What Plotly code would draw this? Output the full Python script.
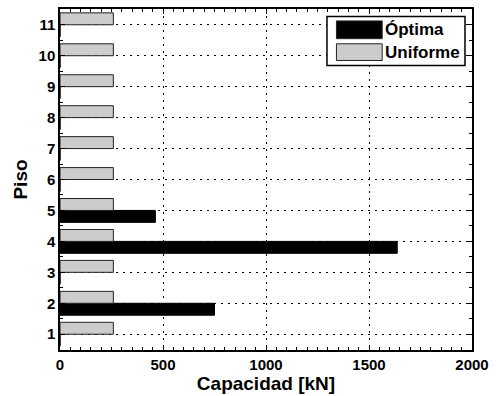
import plotly.graph_objects as go

pisos = [1, 2, 3, 4, 5, 6, 7, 8, 9, 10, 11]
optima = [0, 750, 0, 1637, 463, 0, 0, 0, 0, 0, 0]
uniforme = [259] * 11
x_ticks = [0, 500, 1000, 1500, 2000]
series_names = ["Óptima", "Uniforme"]
series_colors = ["black", "#cccccc"]

FONT = "Liberation Sans, Arial, sans-serif"

fig = go.Figure()
fig.add_trace(go.Bar(
    y=pisos, x=optima, orientation="h", name=series_names[0], showlegend=False,
    marker=dict(color=series_colors[0], line=dict(color="black", width=1)),
))
fig.add_trace(go.Bar(
    y=pisos, x=uniforme, orientation="h", name=series_names[1], showlegend=False,
    marker=dict(color=series_colors[1], line=dict(color="#222222", width=1)),
))

# legend drawn as box + swatches + text (paper coordinates)
shapes = [dict(type="rect", xref="paper", yref="paper", x0=0.648, x1=0.983, y0=0.834, y1=0.978,
               line=dict(color="black", width=1.5), fillcolor="white", layer="above")]
annotations = []
sw_y = [(0.913, 0.965), (0.849, 0.898)]
for (y0, y1), name, col in zip(sw_y, series_names, series_colors):
    shapes.append(dict(type="rect", xref="paper", yref="paper", x0=0.671, x1=0.782, y0=y0, y1=y1,
                       line=dict(color="#222222", width=1), fillcolor=col, layer="above"))
    annotations.append(dict(xref="paper", yref="paper", x=0.785, y=(y0 + y1) / 2, xanchor="left",
                            yanchor="middle", showarrow=False, text=name,
                            font=dict(size=17, weight="bold", family=FONT, color="black")))

fig.update_layout(
    width=496, height=396,
    margin=dict(l=60, r=23, t=7, b=45),
    paper_bgcolor="white", plot_bgcolor="white",
    barmode="group", bargap=0.23, bargroupgap=0,
    font=dict(family=FONT, color="black"),
    shapes=shapes, annotations=annotations,
)

fig.update_xaxes(
    range=[0, 2000], tickvals=x_ticks, ticktext=[str(v) for v in x_ticks],
    showline=True, linecolor="black", linewidth=1.5, mirror="ticks",
    ticks="inside", ticklen=5, tickcolor="black",
    showgrid=True, gridcolor="black", griddash="2px,5px", gridwidth=1,
    zeroline=False,
    tickfont=dict(size=15, weight="bold", family=FONT),
    title=dict(text="Capacidad [kN]", font=dict(size=19, weight="bold", family=FONT), standoff=3),
    minor=dict(ticks="inside", ticklen=3, dtick=50, tickcolor="black", showgrid=False),
)
fig.update_yaxes(
    range=[0.49, 11.51], tickvals=pisos, ticktext=[str(p) for p in pisos],
    showline=True, linecolor="black", linewidth=1.5, mirror="ticks",
    ticks="inside", ticklen=5, tickcolor="black",
    showgrid=True, gridcolor="black", griddash="2px,5px", gridwidth=1,
    zeroline=False,
    tickfont=dict(size=15, weight="bold", family=FONT),
    title=dict(text="Piso", font=dict(size=19, weight="bold", family=FONT), standoff=6),
    minor=dict(ticks="inside", ticklen=3, dtick=0.5, tickcolor="black", showgrid=False),
)

fig.write_html("out.html")
